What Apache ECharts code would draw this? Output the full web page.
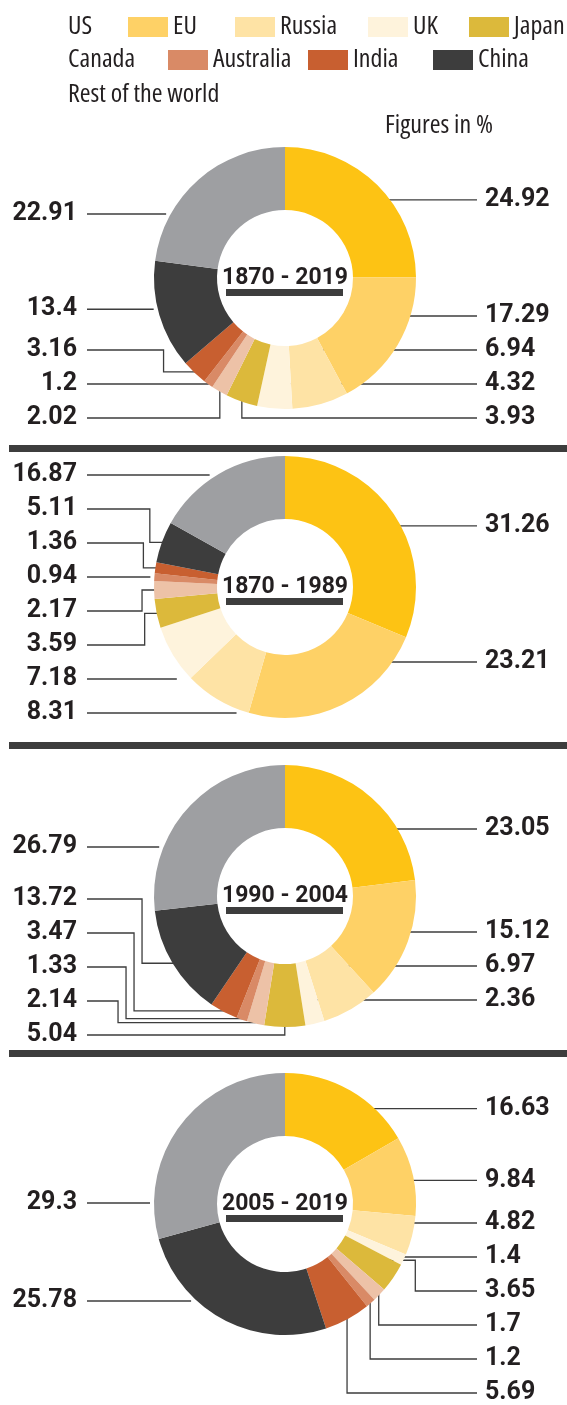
<!DOCTYPE html>
<html>
<head>
<meta charset="utf-8">
<title>Shares by period</title>
<script src="https://cdn.jsdelivr.net/npm/echarts@6/dist/echarts.min.js"></script>
<style>
  html, body { margin: 0; padding: 0; background: #fff; }
  #chart { width: 567px; height: 1405px; }
</style>
</head>
<body>
<div id="chart"></div>
<script>
const countries = ['US', 'EU', 'Russia', 'UK', 'Japan', 'Canada', 'Australia', 'India', 'China', 'Rest of the world'];
const periods = ['1870 - 2019', '1870 - 1989', '1990 - 2004', '2005 - 2019'];

// figures in %
const share1870to2019 = [24.92, 17.29, 6.94, 4.32, 3.93, 2.02, 1.2, 3.16, 13.4, 22.91];
const share1870to1989 = [31.26, 23.21, 8.31, 7.18, 3.59, 2.17, 0.94, 1.36, 5.11, 16.87];
const share1990to2004 = [23.05, 15.12, 6.97, 2.36, 5.04, 2.14, 1.33, 3.47, 13.72, 26.79];
const share2005to2019 = [16.63, 9.84, 4.82, 1.4, 3.65, 1.7, 1.2, 5.69, 25.78, 29.3];
const shares = [share1870to2019, share1870to1989, share1990to2004, share2005to2019];

const palette = ['#fdc314', '#fed166', '#fee3a5', '#fef3dc', '#dcb93b', '#edc2a7', '#d98a66', '#c85f30', '#3d3d3d', '#9e9fa2'];

// layout
const CX = 285;
const R_IN = 68, R_OUT = 131;
const centerY = [278, 587, 896, 1204];
const rightCount = [5, 2, 4, 8];   // slices, from US on, labelled on the right
// band (relative to the centre) in which each side's labels are spread
const bandRight = [[-140, 140], [-140, 75], [-67, 104], [-140, 189]];
const bandLeft = [[-64, 140], [-107, 126], [-49, 139], [-1, 189]];
const separatorY = [445, 742, 1050];
const ROW = 34;
const TEXT_R = 485, TEXT_L = 77, LINE_R = 477, LINE_L = 87;
const legendPos = [[23, 14], [128, 14], [235, 14], [368, 14], [469, 14],
                   [23, 47], [168, 47], [308, 47], [433, 47], [23, 82]];
const noSwatch = ['US', 'Canada', 'Rest of the world'];
const INK = '#231f20';

// the legend face is a narrow one: take the narrowest installed, sized to the original width
function pickNarrowFont() {
  const ctx = document.createElement('canvas').getContext('2d');
  const sample = 'Rest of the world';
  const options = [
    { family: '"Liberation Sans Narrow"', style: 'normal' },
    { family: '"DejaVu Sans Condensed"', style: 'normal' },
    { family: '"Noto Sans"', style: 'condensed' },
    { family: '"Open Sans"', style: 'condensed' },
    { family: '"DejaVu Sans"', style: 'condensed' },
    { family: 'Roboto', style: 'normal' }
  ];
  let best = null;
  options.forEach(o => {
    ctx.font = '10px serif';
    ctx.font = o.style + ' normal 25px ' + o.family;
    if (ctx.font.indexOf('25px') < 0) return;
    const w = ctx.measureText(sample).width;
    if (!best || w < best.w) best = Object.assign({ w }, o);
  });
  return { family: best.family, style: best.style, size: Math.min(26, Math.round(25 * 158 / best.w * 2) / 2) };
}
const narrow = pickNarrowFont();

function slicePoint(cy, r, a) {
  return [CX + r * Math.sin(a), cy - r * Math.cos(a)];
}
function ringHalfWidth(cy, y) {
  const dy = y - cy;
  return Math.abs(dy) >= R_OUT ? 0 : Math.sqrt(R_OUT * R_OUT - dy * dy);
}

function routeLine(d, cy) {
  const s = d.right ? 1 : -1;
  const ly = d.ly;
  // a straight line if the label's height meets the slice
  const radii = d.right ? [106, 100, 90, 80, 115, 125] : [135, 128, 120, 142];
  const m = Math.min(0.03, (d.a1 - d.a0) / 4);
  for (const r of radii) {
    const dy = ly - cy;
    if (Math.abs(dy) >= r) continue;
    const x = CX + s * Math.sqrt(r * r - dy * dy);
    let a = Math.atan2(x - CX, cy - ly);
    if (a < 0) a += 2 * Math.PI;
    if (a > d.a0 + m && a < d.a1 - m) { d.path = [[x, ly]]; return; }
  }
  const out = slicePoint(cy, R_OUT - 1, d.mid);
  const inn = d.right ? slicePoint(cy, 100, d.mid) : out;
  const clear = Math.abs(ly - cy) >= R_OUT + 4 || s * (out[0] - CX) - ringHalfWidth(cy, ly) >= 14;
  if (ly > out[1] + 4 && clear) { d.path = [out, [out[0], ly]]; return; }
  if (Math.abs(ly - inn[1]) <= 10) { d.path = [[inn[0], ly]]; return; }
  if (Math.abs(ly - out[1]) <= 10) { d.path = [[out[0], ly]]; return; }
  const lo = Math.min(ly, inn[1]), hi = Math.max(ly, inn[1]);
  const yc = Math.min(Math.max(cy, lo), hi);
  d.elbow = { ax: inn[0], ay: inn[1], ex: CX + s * (ringHalfWidth(cy, yc) + 12) };
}

// keep elbows of neighbouring lines from crossing
function stagger(list) {
  if (!list.length) return;
  const s = list[0].right ? 1 : -1;
  const up = list.filter(d => d.elbow && d.ly < d.elbow.ay).sort((a, b) => a.ly - b.ly);
  const down = list.filter(d => d.elbow && d.ly > d.elbow.ay).sort((a, b) => b.ly - a.ly);
  [up, down].forEach(group => {
    group.forEach((d, j) => {
      const lo = Math.min(d.ly, d.elbow.ay), hi = Math.max(d.ly, d.elbow.ay);
      for (let i = 0; i < j; i++) {
        const o = group[i];
        if (o.elbow.ay >= lo && o.elbow.ay <= hi && s * (d.elbow.ex - o.elbow.ex) < 8) {
          d.elbow.ex = o.elbow.ex + s * 8;
        }
      }
    });
  });
}

function planLabels(values, k) {
  const cy = centerY[k];
  const total = values.reduce((a, b) => a + b, 0);
  let acc = 0;
  const items = values.map((v, i) => {
    const a0 = acc / total * 2 * Math.PI;
    acc += v;
    const a1 = acc / total * 2 * Math.PI;
    const mid = (a0 + a1) / 2;
    return { v, a0, a1, mid, right: i < rightCount[k], ly: cy - (v >= 5 ? 110 : 129) * Math.cos(mid) };
  });
  const sides = [
    { list: items.filter(d => d.right), band: bandRight[k] },
    { list: items.filter(d => !d.right).reverse(), band: bandLeft[k] }
  ];
  sides.forEach(({ list, band }) => {
    if (!list.length) return;
    list[0].ly = Math.max(list[0].ly, cy + band[0]);
    for (let j = 1; j < list.length; j++) list[j].ly = Math.max(list[j].ly, list[j - 1].ly + ROW);
    const last = list.length - 1;
    list[last].ly = Math.min(list[last].ly, cy + band[1]);
    for (let j = last - 1; j >= 0; j--) list[j].ly = Math.min(list[j].ly, list[j + 1].ly - ROW);
    list.forEach(d => routeLine(d, cy));
    stagger(list);
    list.forEach(d => {
      const end = d.right ? LINE_R : LINE_L;
      if (d.elbow) {
        const e = d.elbow;
        d.points = [[e.ax, e.ay], [e.ex, e.ay], [e.ex, d.ly], [end, d.ly]];
      } else {
        d.points = d.path.concat([[end, d.ly]]);
      }
    });
  });
  return items;
}

const series = shares.map((values, k) => {
  const plan = planLabels(values, k);
  return {
    type: 'pie',
    name: periods[k],
    center: [CX, centerY[k]],
    radius: [R_IN, R_OUT],
    startAngle: 90,
    clockwise: true,
    avoidLabelOverlap: false,
    silent: true,
    emphasis: { disabled: true },
    data: countries.map((name, i) => ({ name, value: values[i] })),
    label: {
      show: true,
      position: 'outside',
      formatter: p => String(p.value),
      fontFamily: 'Roboto',
      fontWeight: 'bold',
      fontSize: 25,
      color: INK
    },
    labelLine: { show: true, smooth: false, lineStyle: { color: '#3d3d3d', width: 1.3 } },
    labelLayout: p => {
      const d = plan[p.dataIndex];
      return {
        x: d.right ? TEXT_R : TEXT_L,
        y: d.ly,
        align: d.right ? 'left' : 'right',
        verticalAlign: 'middle',
        labelLinePoints: d.points
      };
    }
  };
});

const legends = countries.map((name, i) => ({
  left: legendPos[i][0],
  top: legendPos[i][1],
  padding: 0,
  itemWidth: 40,
  itemHeight: 20,
  selectedMode: false,
  icon: 'rect',
  textStyle: { fontFamily: narrow.family, fontStyle: narrow.style, fontSize: narrow.size, color: INK, lineHeight: 20 },
  data: [noSwatch.includes(name) ? { name, itemStyle: { opacity: 0 } } : { name }]
}));

const graphic = [];
separatorY.forEach(y => {
  graphic.push({ type: 'rect', shape: { x: 9, y, width: 558, height: 7 }, style: { fill: '#3d3d3d' } });
});
periods.forEach((p, k) => {
  graphic.push({
    type: 'text', x: CX, y: centerY[k],
    style: { text: p, fontFamily: 'Roboto', fontWeight: 'bold', fontSize: 23, fill: INK, align: 'center', verticalAlign: 'middle' }
  });
  graphic.push({ type: 'rect', shape: { x: CX - 59, y: centerY[k] + 11, width: 117, height: 7 }, style: { fill: '#3d3d3d' } });
});
graphic.push({
  type: 'text', x: 385, y: 126,
  style: { text: 'Figures in %', fontFamily: narrow.family, fontStyle: narrow.style, fontSize: narrow.size, fill: INK, align: 'left', verticalAlign: 'middle' }
});

const chart = echarts.init(document.getElementById('chart'));
chart.setOption({
  animation: false,
  backgroundColor: '#fff',
  color: palette,
  legend: legends,
  graphic,
  series
});
</script>
</body>
</html>
